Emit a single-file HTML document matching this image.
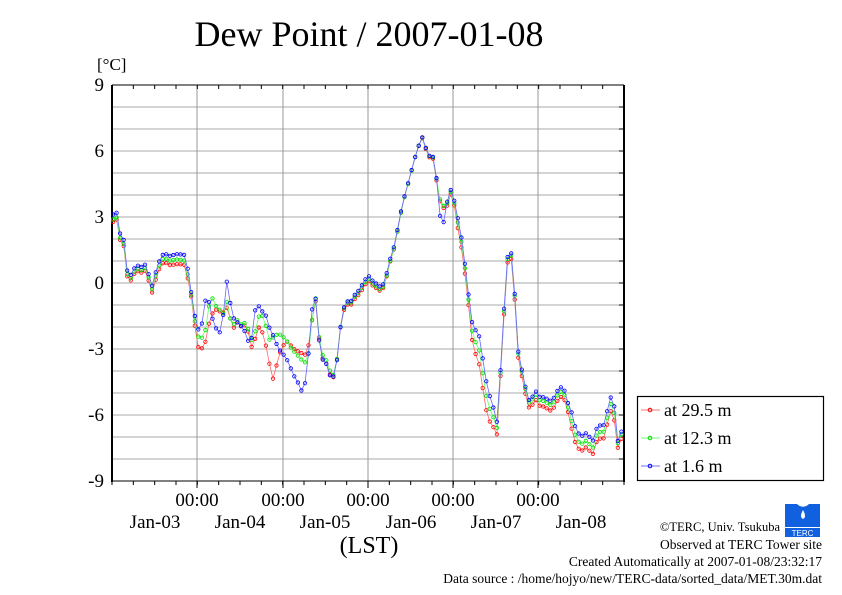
<!DOCTYPE html>
<html><head><meta charset="utf-8"><style>
body{margin:0;background:#fff;}
svg{display:block;font-family:"Liberation Serif",serif;}
</style></head><body>
<svg id="s" width="842" height="595" viewBox="0 0 842 595" xmlns="http://www.w3.org/2000/svg">
<rect width="842" height="595" fill="#fff"/>
<text x="369" y="46" font-size="36" text-anchor="middle">Dew Point / 2007-01-08</text>
<text x="97" y="70" font-size="17">[°C]</text>
<g id="grid"></g>
<g id="data"></g>
<g font-size="19" text-anchor="end">
<text x="104" y="91">9</text><text x="104" y="157">6</text><text x="104" y="223">3</text>
<text x="104" y="289">0</text><text x="104" y="355">-3</text><text x="104" y="421">-6</text><text x="104" y="487">-9</text>
</g>
<g font-size="19" text-anchor="middle">
<text x="197" y="506">00:00</text><text x="283" y="506">00:00</text><text x="368" y="506">00:00</text><text x="453" y="506">00:00</text><text x="538" y="506">00:00</text>
<text x="155" y="528">Jan-03</text><text x="240" y="528">Jan-04</text><text x="325" y="528">Jan-05</text><text x="411" y="528">Jan-06</text><text x="496" y="528">Jan-07</text><text x="581" y="528">Jan-08</text>
<text x="369" y="553" font-size="24">(LST)</text>
</g>
<rect x="637.5" y="396.5" width="186" height="84" fill="#fff" stroke="#000" stroke-width="1.2"/>
<g font-size="18">
<line x1="641" y1="410" x2="660" y2="410" stroke="#f44" stroke-width="0.8"/><circle cx="650" cy="410" r="1.8" fill="none" stroke="#f00"/>
<text x="664" y="416">at 29.5 m</text>
<line x1="641" y1="438" x2="660" y2="438" stroke="#4f4" stroke-width="0.8"/><circle cx="650" cy="438" r="1.8" fill="none" stroke="#0d0"/>
<text x="664" y="444">at 12.3 m</text>
<line x1="641" y1="466" x2="660" y2="466" stroke="#44f" stroke-width="0.8"/><circle cx="650" cy="466" r="1.8" fill="none" stroke="#00f"/>
<text x="664" y="472">at 1.6 m</text>
</g>
<g font-size="13.5" text-anchor="end">
<text x="780" y="531" font-size="12.5">©TERC, Univ. Tsukuba</text>
<text x="822" y="549">Observed at TERC Tower site</text>
<text x="822" y="566">Created Automatically at 2007-01-08/23:32:17</text>
<text x="822" y="583">Data source : /home/hojyo/new/TERC-data/sorted_data/MET.30m.dat</text>
</g>
<g>
<path d="M785 504 h12 a8 8 0 0 0 12 0 h11 v23 h-35z" fill="#1060e0"/>
<path d="M803 510 q-4 7 0 9 q4 -2 0 -9z" fill="#fff"/>
<rect x="785" y="528" width="35" height="9" fill="#1060e0"/>
<text x="802.5" y="536" font-size="8" fill="#fff" text-anchor="middle" font-family="Liberation Sans,sans-serif">TERC</text>
</g>
</svg>
<script>
var NS="http://www.w3.org/2000/svg";
function el(p,t,a){var e=document.createElementNS(NS,t);for(var k in a)e.setAttribute(k,a[k]);p.appendChild(e);return e;}
var g=document.getElementById("grid"),d=document.getElementById("data");
var L=112,R=624,T=85,B=481;
function Y(v){return 283-22*v;}
for(var v=-8;v<=8;v++)el(g,"line",{x1:L,x2:R,y1:Y(v),y2:Y(v),stroke:"#aaa","stroke-width":1});
[197,283,368,453,538].forEach(function(x){el(g,"line",{x1:x,x2:x,y1:T,y2:B,stroke:"#999","stroke-width":1});el(g,"line",{x1:x,x2:x,y1:B,y2:B+7,stroke:"#000","stroke-width":1});});
for(var i=0;i<=24;i++){var x=L+i*(R-L)/24;el(g,"line",{x1:x,x2:x,y1:T,y2:T+4,stroke:"#000","stroke-width":1});el(g,"line",{x1:x,x2:x,y1:B,y2:B+4,stroke:"#000","stroke-width":1});}
for(var v=-9;v<=9;v++){el(g,"line",{x1:R-5,x2:R,y1:Y(v),y2:Y(v),stroke:"#000","stroke-width":1});}
el(g,"line",{x1:L,x2:R,y1:T,y2:T,stroke:"#000","stroke-width":1});
el(g,"line",{x1:L,x2:R,y1:B,y2:B,stroke:"#000","stroke-width":1});
el(g,"line",{x1:L,x2:L,y1:T,y2:B+1,stroke:"#000","stroke-width":2});
el(g,"line",{x1:R,x2:R,y1:T,y2:B+1,stroke:"#000","stroke-width":2});
function P(s){var a=s.trim().split(/\s+/).map(function(q){var z=q.split(":");return [+z[0],+z[1]];});return a;}
var red=P("113:2.8 116:3.0 119:2.4 121:1.6 123:2.0 125:1.0 127:0.3 130:0.0 133:0.3 137:0.5 141:0.4 145:0.5 149:0.0 152:-0.5 155:0.0 158:0.5 163:0.9 167:0.9 171:0.8 175:0.9 180:0.9 184:0.9 186:0.6 189:0.0 191:-0.5 193:-1.0 195:-2.0 197:-2.6 199:-3.0 201:-2.9 204:-3.0 206:-2.5 208:-2.0 211:-1.5 215:-1.2 219:-1.3 223:-1.4 226:-1.1 229:-1.4 231:-1.8 234:-2.1 238:-1.8 242:-2.1 246:-1.9 249:-2.4 252:-3.0 255:-2.6 258:-2.0 261:-2.1 264:-2.4 268:-3.3 271:-4.0 273:-4.3 276:-3.8 279:-3.2 283:-2.8 287:-2.6 291:-2.8 295:-3.0 299:-3.1 303:-3.2 307:-3.3 310:-2.4 313:-1.4 316:-0.8 318:-1.5 320:-3.3 323:-3.5 326:-3.7 329:-4.0 331:-4.5 334:-4.3 337:-3.5 340:-2.2 343:-1.4 346:-1.0 351:-1.0 355:-0.7 359:-0.5 363:-0.2 368:0.2 371:0.0 374:-0.1 377:-0.2 380:-0.3 383:-0.2 386:0.2 389:0.8 392:1.3 395:1.7 398:2.5 401:3.2 404:3.8 407:4.3 410:4.8 413:5.3 416:5.8 419:6.2 423:6.6 426:6.0 428:5.8 431:5.5 433:5.6 435:5.0 437:4.5 440:3.7 443:3.4 446:3.4 448:3.6 450:4.0 453:4.2 455:3.2 458:2.5 461:1.8 464:0.8 467:-0.2 469:-1.2 471:-2.0 473:-3.0 476:-3.2 479:-3.6 482:-4.5 485:-5.5 488:-6.1 491:-6.4 494:-6.6 497:-6.9 499:-5.5 502:-3.0 504:-1.5 506:0.0 508:1.1 511:1.1 513:0.3 515:-1.0 517:-2.5 519:-4.0 522:-4.3 525:-5.0 528:-5.6 531:-5.9 534:-5.2 537:-5.4 540:-5.6 544:-5.6 548:-5.7 552:-5.8 556:-5.4 560:-5.1 564:-5.2 567:-5.6 570:-6.2 573:-6.9 576:-7.3 580:-7.6 584:-7.6 587:-7.4 590:-7.7 593:-7.8 596:-7.3 599:-7.1 603:-7.2 606:-6.8 609:-6.0 612:-5.8 614:-6.2 616:-7.0 618:-7.6 621:-7.2 624:-6.6");
var grn=P("193:-0.9 195:-1.8 199:-2.5 203:-2.4 206:-2.0 209:-1.0 212:-0.6 216:-1.0 220:-1.2 224:-1.4 227:-0.8 230:-1.6 234:-1.9 238:-1.7 242:-2.0 246:-1.8 249:-2.3 252:-2.7 255:-2.3 258:-1.6 262:-1.5 266:-2.0 270:-2.7 274:-2.4 279:-2.3 283:-2.4 287:-2.6 291:-2.9 295:-3.1 299:-3.3 303:-3.5 307:-3.6 310:-2.7 313:-1.2 316:-0.6 318:-1.5 320:-3.1 323:-3.3 326:-3.5 329:-3.8 331:-4.3 334:-4.2 337:-3.5 340:-2.2 343:-1.3");
var blu=P("193:-0.8 195:-1.6 199:-2.2 202:-1.8 205:-0.8 208:-0.6 212:-1.5 216:-2.0 220:-2.2 223:-1.5 226:0.0 228:0.3 230:-0.8 234:-1.6 238:-1.8 242:-2.0 246:-2.3 249:-2.8 252:-2.5 255:-1.3 259:-1.1 263:-1.4 267:-1.6 270:-2.2 274:-2.5 278:-3.0 282:-3.2 286:-3.4 290:-3.8 294:-4.2 298:-4.5 302:-4.9 305:-4.5 308:-3.5 311:-1.5 314:-0.5 317:-0.8 319:-2.5 322:-3.4 326:-3.6 329:-4.0 331:-4.4 334:-4.2 337:-3.5 340:-2.2 343:-1.2");
function I(a,x){if(x<=a[0][0])return a[0][1];for(var i=1;i<a.length;i++){if(x<=a[i][0]){var t=(x-a[i-1][0])/(a[i][0]-a[i-1][0]);return a[i-1][1]+t*(a[i][1]-a[i-1][1]);}}return a[a.length-1][1];}
function off(x,k){
 var o;
 if(x<190)o=[0.15,0.35];
 else if(x<455)o=[0.05,0.12];
 else if(x>=468&&x<=500){var s=Math.sin((x-468)/32*Math.PI);o=[0.2+0.5*s,0.35+1.0*s];}
 else if(x>=570&&x<=616)o=[0.35,0.7];
 else o=[0.2,0.35];
 if(x>438&&x<446&&k==2)o[1]-=0.8;
 return o[k-1];
}
function val(k,x){
 if(x>=193&&x<=343){if(k==1)return I(grn,x);if(k==2)return I(blu,x);}
 var r=I(red,x);return k==0?r:r+off(x,k);
}
var cols=[["#f66","#f00"],["#6f6","#0d0"],["#66f","#00f"]];
for(var k=0;k<3;k++){
 var pts=[];for(var x=113;x<=624;x+=3.555){var n=Math.sin(x*1.7+k)*0.06;pts.push([x,Y(val(k,x)+n)]);}
 el(d,"polyline",{points:pts.map(function(p){return p[0].toFixed(1)+","+p[1].toFixed(1);}).join(" "),fill:"none",stroke:cols[k][0],"stroke-width":0.8});
 pts.forEach(function(p){el(d,"circle",{cx:p[0].toFixed(1),cy:p[1].toFixed(1),r:1.7,fill:"none",stroke:cols[k][1],"stroke-width":0.8});});
}
</script>
</body></html>
